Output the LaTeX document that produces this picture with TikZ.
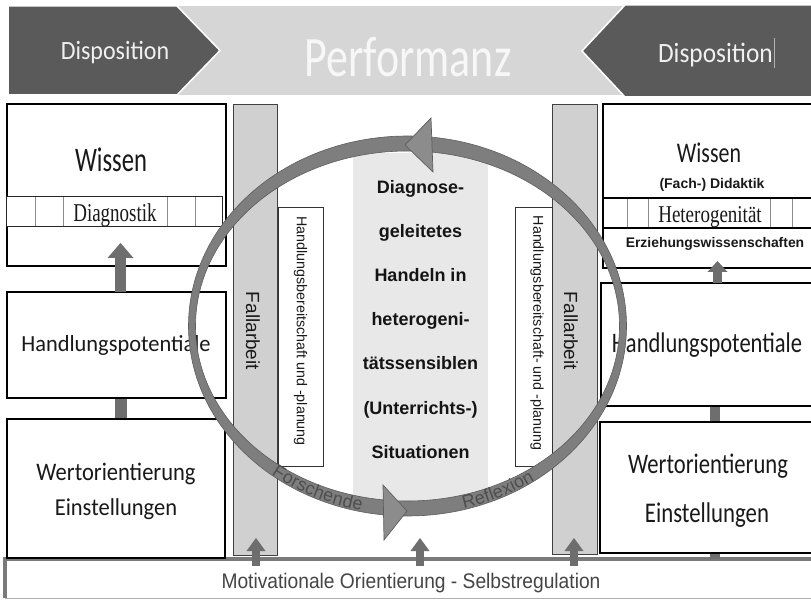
\documentclass[tikz,border=0pt]{standalone}
\usepackage{fontspec}
\usepackage{graphicx}
\usetikzlibrary{arrows.meta,decorations.text}
\newfontfamily\fcal{Carlito}
\newfontfamily\fari{Liberation Sans}
\newfontfamily\ftim{Liberation Serif}
\newcommand\vsc[2]{\scalebox{1}[#1]{#2}}
\newcommand\fsz[1]{\fontsize{#1}{#1}\selectfont}
\definecolor{lightband}{HTML}{D6D6D6}
\definecolor{darkchev}{HTML}{5A5A5A}
\definecolor{fallfill}{HTML}{D0D0D0}
\definecolor{panelfill}{HTML}{E8E8E8}
\definecolor{arrowgray}{HTML}{6E6E6E}
\definecolor{ringgray}{HTML}{7E7E7E}
\definecolor{headgray}{HTML}{8C8C8C}
\definecolor{ringedge}{HTML}{5E5E5E}
\definecolor{ringtext}{HTML}{4E4E4E}
\definecolor{bottomtext}{HTML}{454545}
\definecolor{barline}{HTML}{7A7A7A}
\begin{document}
\begin{tikzpicture}[x=1pt,y=-1pt,
  chev/.style={fill=darkchev,draw=white,line width=1.5pt},
  box/.style={draw=black,line width=2.5pt,fill=white,inner sep=0pt,outer sep=0pt},
  thinbox/.style={draw=black,line width=1.2pt,fill=white,inner sep=0pt,outer sep=0pt},
  bandbox/.style={draw=black!85,line width=1pt,fill=white,inner sep=0pt,outer sep=0pt},
  fallbar/.style={draw=black!75,line width=0.8pt,fill=fallfill,inner sep=0pt,outer sep=0pt},
  hbbox/.style={draw=black!80,line width=0.8pt,fill=white,inner sep=0pt,outer sep=0pt},
  divider/.style={draw=black!45,line width=0.8pt},
  lbl/.style={anchor=base,inner sep=0pt,text=black!90},
  rot/.style={rotate=-90,inner sep=0pt,text=black!90},
  fatL/.style={draw=arrowgray,line width=11pt,-{Triangle[width=26pt,length=15pt,line width=0pt]}},
  fatR/.style={draw=arrowgray,line width=9pt,-{Triangle[width=20pt,length=11pt,line width=0pt]}},
  upar/.style={draw=arrowgray,line width=7.5pt,-{Triangle[width=19pt,length=13pt,line width=0pt]},shorten <=-7pt},
  conn/.style={draw=arrowgray}
]
\useasboundingbox (0,0) rectangle (811,601);
\fill[white] (0,0) rectangle (811,601);

% ---------- banner ----------
\fill[lightband] (170,6) rectangle (640,95);
\path[chev] (8,6) -- (177,6) -- (220,50.5) -- (177,95) -- (8,95) -- cycle;
\path[chev] (816,5) -- (625,5) -- (582,51) -- (625,97) -- (816,97) -- cycle;
\node[lbl,text=white!94!black] (tDispL) at (115,60) {\fcal\fsz{24}\vsc{1.1}{Disposition}};
\node[lbl,text=white!97!black] (tPerf) at (408,77) {\fcal\fsz{44}\vsc{1.3}{Performanz}};
\node[lbl,text=white!94!black] (tDispR) at (715.5,63) {\fcal\fsz{25.4}\vsc{1.1}{Disposition}};
\draw[white!70!black,line width=0.6pt] (774.5,38) -- (774.5,68);

% ---------- bottom bar ----------
\node[draw=barline!60,line width=1pt,fill=white,minimum width=815pt,minimum height=39pt,anchor=north west,inner sep=0pt,outer sep=0pt] (mb) at (5,559) {};
\draw[barline,line width=4pt] (mb.south west) -- (mb.north west) -- (mb.north east);
\node[lbl,text=bottomtext] (tMot) at (411,588) {\fari\fsz{19.2}\vsc{1.1}{Motivationale Orientierung - Selbstregulation}};

% ---------- left column ----------
\coordinate (tipL) at (120.5,243);
\draw[conn,line width=12pt] (tipL |- 0,398) -- (tipL |- 0,419);
\node[box,minimum width=219pt,minimum height=162pt] (wiL) at (116.5,185) {};
\node[bandbox,minimum width=216pt,minimum height=30pt] (bdL) at (114,212) {};
\foreach \x in {35,63,167,195} \draw[divider] (\x,197.5) -- (\x,226.5);
\node[lbl] (tWiL) at (111,172) {\fcal\fsz{24.6}\vsc{1.4}{Wissen}};
\node[lbl] (tDiag) at (115,222) {\ftim\fsz{19}\vsc{1.35}{Diagnostik}};
\node[box,minimum width=219pt,minimum height=106pt] (hpL) at (116.5,345) {};
\node[lbl] (tHpL) at (116,352) {\fcal\fsz{22.4}\vsc{1.03}{Handlungspotentiale}};
\node[thinbox,minimum width=218pt,minimum height=139pt] (woL) at (116,488.5) {};
\node[lbl] (tWoL) at (116,480) {\fcal\fsz{22.5}\vsc{1.12}{Wertorientierung}};
\node[lbl] (tEiL) at (116,515) {\fcal\fsz{22.5}\vsc{1.08}{Einstellungen}};
\draw[fatL] (tipL |- hpL.north) -- (tipL);

% ---------- right column ----------
\coordinate (tipR) at (717.5,261);
\coordinate (cR) at (715,0);
\draw[conn,line width=10pt] (cR |- 0,406) -- (cR |- 0,422);
\draw[conn,line width=10pt] (cR |- 0,553) -- (cR |- mb.north);
\node[box,minimum width=212pt,minimum height=164pt] (wiR) at (709,186) {};
\node[box,line width=2pt,minimum width=212pt,minimum height=30pt] (bdR) at (709,213) {};
\foreach \x in {627,648,770,792} \draw[divider] (\x,199) -- (\x,227);
\node[lbl] (tWiR) at (709,163) {\fcal\fsz{21.9}\vsc{1.3}{Wissen}};
\node[lbl] (tFach) at (712,189) {\fari\bfseries\fsz{14}(Fach-) Didaktik};
\node[lbl] (tHet) at (710,223) {\ftim\fsz{19}\vsc{1.27}{Heterogenität}};
\node[lbl] (tErz) at (715,248) {\fari\bfseries\fsz{13.9}Erziehungswissenschaften};
\node[box,minimum width=214pt,minimum height=123pt] (hpR) at (708,344.5) {};
\node[lbl] (tHpR) at (707,353) {\fcal\fsz{22.5}\vsc{1.26}{Handlungspotentiale}};
\node[box,minimum width=215pt,minimum height=131pt] (woR) at (707.5,487.5) {};
\node[lbl] (tWoR) at (708,473) {\fcal\fsz{22.6}\vsc{1.25}{Wertorientierung}};
\node[lbl] (tEiR) at (707,522) {\fcal\fsz{22.8}\vsc{1.25}{Einstellungen}};
\draw[fatR] (tipR |- hpR.north) -- (tipR);

% ---------- middle ----------
\node[fallbar,minimum width=44pt,minimum height=451pt] (faL) at (255,329.5) {};
\node[fallbar,minimum width=45pt,minimum height=450pt] (faR) at (574.5,329) {};
\node[hbbox,minimum width=45pt,minimum height=259pt] (hbL) at (300.5,336.5) {};
\node[hbbox,minimum width=37pt,minimum height=259pt] (hbR) at (533.5,336.5) {};
\node[fill=panelfill,minimum width=135pt,minimum height=350pt,inner sep=0pt,outer sep=0pt] (cp) at (420.5,328) {};
\node[rot] (tFaL) at (253,331) {\fari\fsz{19}Fallarbeit};
\node[rot] (tFaR) at (571,331) {\fari\fsz{19}Fallarbeit};
\node[rot] (tHbL) at (300.5,331) {\fari\fsz{14.3}Handlungsbereitschaft und -planung};
\node[rot] (tHbR) at (537,333) {\fari\fsz{14.3}Handlungsbereitschaft- und -planung};
\node[lbl,text=black!92] (c1) at (420.5,194) {\fari\bfseries\fsz{18}Diagnose-};
\node[lbl,text=black!92] (c2) at (420.5,238) {\fari\bfseries\fsz{18}geleitetes};
\node[lbl,text=black!92] (c3) at (420.5,282) {\fari\bfseries\fsz{18}Handeln in};
\node[lbl,text=black!92] (c4) at (420.5,326) {\fari\bfseries\fsz{18}heterogeni-};
\node[lbl,text=black!92] (c5) at (420.5,370) {\fari\bfseries\fsz{18}tätssensiblen};
\node[lbl,text=black!92] (c6) at (420.5,414) {\fari\bfseries\fsz{18}(Unterrichts-)};
\node[lbl,text=black!92] (c7) at (420.5,458) {\fari\bfseries\fsz{18}Situationen};

% up arrows from the bottom bar
\coordinate (ua1) at (256,538);
\coordinate (ua2) at (420,538);
\coordinate (ua3) at (574,538);
\draw[upar] (ua1 |- mb.north) -- (ua1);
\draw[upar] (ua2 |- mb.north) -- (ua2);
\draw[upar] (ua3 |- mb.north) -- (ua3);

% ---------- ring ----------
\path[fill=ringgray,draw=ringedge,line width=0.6pt,even odd rule]
  (407.5,326) ellipse [x radius=219, y radius=190]
  (407.5,326) ellipse [x radius=212, y radius=175];
\path[fill=headgray,draw=ringedge,line width=0.7pt] (405,145) -- (431,118) -- (433,172) -- cycle;
\path[fill=headgray,draw=ringedge,line width=0.7pt] (407,511) -- (383,485) -- (384,540) -- cycle;
\path[decorate,decoration={text along path,text align=center,raise=-6pt,
   text={|\fari\fsz{18}\color{ringtext}|Forschende}}]
  (407.5,326) ++(141:215.5 and 182.5) arc[start angle=141,end angle=90,x radius=215.5,y radius=182.5];
\path[decorate,decoration={text along path,text align=center,raise=-6pt,
   text={|\fari\fsz{18}\color{ringtext}|Reflexion}}]
  (407.5,326) ++(90:215.5 and 182.5) arc[start angle=90,end angle=39,x radius=215.5,y radius=182.5];
\end{tikzpicture}
\end{document}
